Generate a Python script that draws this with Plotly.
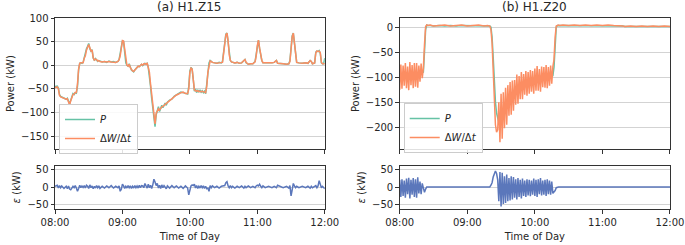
import plotly.graph_objects as go

# ---------------- data (minutes after 08:00) ----------------
tick_vals = [0, 60, 120, 180, 240]
tick_text = ["08:00", "09:00", "10:00", "11:00", "12:00"]

# Panel (a) H1.Z15
t_a = [0, 2, 3, 4, 5, 6, 8, 10, 11, 12, 13, 14, 15, 16, 17, 18, 19, 20, 21, 22, 23, 24, 25, 26, 27, 28, 29, 30,
       31, 32, 33, 34, 35, 36, 37, 38, 39, 40, 42, 44, 46, 48, 50, 52, 54, 56, 57, 58, 59, 60, 61, 62, 63, 64, 65,
       66, 67, 68, 69, 70, 71, 72, 73, 74, 75, 76, 77, 78, 79, 80, 81, 82, 83, 84, 85, 86, 87, 88, 89, 90, 91, 92,
       93, 94, 95, 96, 97, 98, 99, 100, 102, 104, 106, 108, 110, 112, 114, 116, 118, 119, 120, 121, 122, 123, 124,
       125, 126, 127, 128, 129, 130, 131, 132, 133, 134, 135, 136, 137, 138, 139, 140, 142, 144, 146, 148, 149, 150,
       151, 152, 153, 154, 155, 156, 157, 158, 160, 162, 164, 166, 168, 169, 170, 172, 174, 176, 178, 179, 180, 181,
       182, 183, 184, 185, 187, 190, 193, 195, 197, 198, 200, 203, 206, 208, 209, 210, 211, 212, 213, 214, 215, 217,
       220, 223, 225, 227, 228, 229, 231, 232, 233, 234, 235, 236, 237, 238, 239, 240]
P_a = [-45, -44, -48, -62, -66, -67, -70, -72, -70, -76, -82, -74, -68, -60, -62, -58, -59, -45, -10, 4, 5, 4, 6, 18,
       22, 35, 40, 46, 35, 30, 33, 15, 10, 14, 11, 8, 10, 9, 7, 8, 6, 9, 7, 8, 6, 8, 12, 25, 45, 52, 50, 30, 5, 0,
       -2, 3, -6, -10, -12, -14, -10, -7, -5, -2, -3, 0, 2, -1, 3, 4, 2, 4, -5, -20, -45, -70, -95, -120, -130, -105,
       -95, -88, -98, -92, -85, -90, -84, -80, -85, -78, -74, -72, -66, -63, -60, -57, -58, -60, -61, -45, -12, -5,
       -8, -30, -55, -50, -58, -52, -56, -53, -57, -54, -58, -55, -60, -40, -10, 5, 10, 8, 6, 5, 4, 6, 5, 8, 30, 55,
       66, 68, 50, 20, 10, 7, 6, 5, 6, 4, 5, 10, 12, 5, 2, 3, 3, 8, 22, 45, 53, 35, 20, 10, 5, 5, 4, 5, 6, 10, 4, 3,
       3, 2, 3, 10, 40, 62, 68, 45, 15, 6, 5, 4, 5, 4, 10, 8, 3, 5, 28, 30, 29, 31, 25, 5, 3, 3, 15]
dW_a = [-47, -46, -50, -64, -67, -68, -71, -72, -71, -77, -84, -75, -69, -62, -61, -58, -58, -40, -8, 4, 5, 5, 5, 15,
        20, 32, 38, 44, 37, 30, 32, 16, 11, 13, 12, 9, 10, 8, 7, 8, 7, 8, 7, 7, 6, 8, 11, 20, 40, 52, 51, 33, 6, 0,
        -2, 2, -5, -9, -12, -13, -10, -7, -6, -2, -3, -1, 2, 0, 3, 3, 2, 5, -3, -15, -40, -65, -90, -115, -124, -102,
        -96, -92, -95, -90, -88, -87, -85, -82, -80, -78, -75, -70, -67, -63, -61, -58, -57, -60, -60, -50, -15, -6,
        -8, -28, -52, -54, -55, -54, -56, -55, -56, -55, -57, -57, -58, -45, -15, 2, 9, 8, 6, 5, 4, 5, 5, 6, 25, 52,
        64, 68, 52, 22, 10, 7, 6, 5, 6, 4, 5, 9, 12, 6, 2, 3, 3, 7, 20, 42, 53, 37, 21, 10, 5, 5, 4, 5, 6, 10, 4, 3,
        3, 2, 3, 8, 35, 60, 68, 47, 17, 6, 5, 4, 5, 4, 10, 8, 3, 5, 26, 30, 29, 30, 27, 6, 3, 3, 3]
eps_a = [2, 5, -3, 4, -2, 3, -4, 2, -5, 3, -6, -8, -3, 2, -2, 4, -3, -12, -4, 5, -2, 3, -1, 4, -3, 5, 2, -4, 6, -2,
         3, -5, 2, -3, 4, -2, 3, -4, 2, -3, 3, -2, 4, -3, 2, -2, 3, -12, -6, 8, 3, -4, 2, -3, 4, -2, 3, -4, 2, -3, 4,
         -2, 3, -3, 5, -2, 4, 3, -2, 10, 3, -3, 8, -2, 5, -4, 6, 22, 14, 4, 10, -3, 5, -4, 6, -2, 4, -3, -5, 3, -3, 4,
         -2, 3, -3, 2, -4, 3, -3, -22, -8, 3, 6, 4, 8, -3, 4, -4, 2, -3, 4, -2, 3, -4, 2, -5, -3, -12, 4, -2, 3, -2, 2,
         -3, 2, 3, 5, 4, 12, 15, 3, -2, 4, -2, 2, -3, 2, -2, 3, -3, 2, -2, 3, -2, 2, -2, 3, 5, 3, 8, 2, -2, 3, -2, 2,
         -2, 2, -2, 5, 2, -2, 2, -3, 4, -25, -8, 10, 3, -2, 2, -2, 2, -2, 2, -3, 2, -2, 2, 4, -2, 3, 18, 3, -2, 2, -3, -5]

# Panel (b) H1.Z20
t_b = [0, 1, 2, 3, 4, 5, 6, 7, 8, 9, 10, 11, 12, 13, 14, 15, 16, 17, 18, 19, 20, 21, 22, 23, 24, 25,
       27, 30, 35, 40, 45, 50, 55, 60, 65, 70, 75, 78, 80,
       81, 82, 83, 84, 85, 86, 87, 88, 89, 90, 91, 92, 93, 94, 95, 96, 97, 98, 99, 100, 101, 102, 103, 104, 105,
       106, 107, 108, 109, 110, 111, 112, 113, 114, 115, 116, 117, 118, 119, 120, 121, 122, 123, 124, 125, 126,
       127, 128, 129, 130, 131, 132, 133, 134, 135, 136, 137, 138, 139, 140, 141, 142,
       145, 150, 155, 160, 165, 170, 175, 180, 185, 190, 195, 198, 200, 205, 210, 215, 220, 225, 230, 235, 240]
P_b = [-105, -103, -101, -102, -99, -100, -98, -99, -100, -97, -96, -98, -97, -95, -97, -96, -94, -95, -94, -93,
       -92, -90, -50, -5, 4, 3,
       3, 2, 3, 2, 3, 2, 3, 3, 2, 3, 3, 2, 2,
       0, -20, -60, -110, -150, -172, -185, -190, -192, -188, -183, -178, -172, -166, -160, -156, -152, -148, -145,
       -142, -139, -136, -133, -130, -128, -126, -124, -122, -120, -119, -117, -116, -115, -114, -113, -112, -111,
       -110, -109, -108, -107, -106, -105, -104, -104, -103, -102, -102, -101, -101, -100, -100, -99, -99, -98, -97,
       -80, -30, 0, 3, 3, 3,
       3, 3, 3, 3, 3, 3, 3, 3, 3, 3, 3, 2, 1, 1, 1, 1, 1, 1, 1, 1, 1]
dW_b = [-125, -75, -123, -77, -117, -72, -122, -79, -126, -70, -116, -76, -122, -72, -119, -72, -121, -77, -109,
        -73, -102, -82, -35, 1, 4, 3,
        4, 2, 3, 4, 2, 3, 4, 2, 3, 4, 2, 3, 2,
        -5, -32, -88, -150, -195, -210, -205, -150, -230, -133, -223, -130, -202, -121, -195, -116, -177, -110,
        -175, -107, -167, -106, -155, -95, -153, -98, -144, -90, -144, -94, -135, -88, -137, -90, -133, -86, -129,
        -88, -133, -83, -127, -78, -127, -84, -129, -79, -120, -80, -121, -76, -122, -80, -117, -77, -113, -79,
        -65, -20, 2, 3, 4, 3,
        4, 3, 4, 3, 4, 3, 4, 3, 4, 3, 3, 2, 1, 2, 1, 2, 1, 2, 1, 2, 1]
eps_b = [20, -28, 22, -25, 18, -30, 24, -20, 26, -32, 20, -22, 25, -28, 22, -30, 27, -18, 15, -20, 10, -8, -15, -6,
         0, 0,
         0, 0, 0, 0, 0, 0, 0, 0, 0, 0, 0, 0, 0,
         5, 12, 28, 40, 45, 38, 20, -40, 42, -55, 40, -48, 30, -45, 35, -40, 25, -38, 30, -35, 28, -30, 22, -35, 25,
         -28, 20, -32, 24, -25, 18, -28, 22, -24, 20, -26, 18, -22, 24, -25, 20, -28, 22, -20, 25, -24, 18, -22, 20,
         -25, 22, -20, 18, -22, 15, -18, -15, -10, -2, 0, 0, 0,
         0, 0, 0, 0, 0, 0, 0, 0, 0, 0, 0, 0, 0, 0, 0, 0, 0, 0, 0, 0, 0]

# ---------------- styling ----------------
C_P = "#66c2a5"
C_DW = "#fc8d62"
C_EPS = "#5b77bb"
FONT = "DejaVu Sans"
TXT = "#262626"

fig = go.Figure()

def add(x, y, color, name, xa, ya, legend, show):
    fig.add_trace(go.Scatter(x=x, y=y, mode="lines", name=name, line=dict(color=color, width=1.5),
                             xaxis=xa, yaxis=ya, legend=legend, showlegend=show))

add(t_a, P_a, C_P, "<i>P</i>", "x", "y", "legend", True)
add(t_a, dW_a, C_DW, "Δ<i>W</i>/Δ<i>t</i>", "x", "y", "legend", True)
add(t_a, eps_a, C_EPS, "eps", "x2", "y2", "legend", False)
add(t_b, P_b, C_P, "<i>P</i>", "x3", "y3", "legend2", True)
add(t_b, dW_b, C_DW, "Δ<i>W</i>/Δ<i>t</i>", "x3", "y3", "legend2", True)
add(t_b, eps_b, C_EPS, "eps", "x4", "y4", "legend2", False)

W, H = 685, 245
ML, MR, MT, MB = 55, 14.5, 18, 36
PW, PH = W - ML - MR, H - MT - MB

def fx(px):
    return (px - ML) / PW

def fy(py):
    return (H - MB - py) / PH

xdomA = [fx(55), fx(325)]
xdomB = [fx(400), fx(670.5)]
ydomTop = [fy(149.3), fy(18)]
ydomBot = [fy(209), fy(165.7)]

axis_common = dict(showline=True, linecolor="#333333", linewidth=1, mirror=True, ticks="outside", ticklen=3.5,
                   tickcolor="#333333", tickfont=dict(family=FONT, size=10, color=TXT), zeroline=False,
                   automargin=False)

def xax(dom, anchor, labels):
    d = dict(axis_common)
    d.update(domain=dom, anchor=anchor, range=[0, 240], tickvals=tick_vals, ticktext=tick_text,
             showgrid=False, showticklabels=labels)
    if labels:
        d["title"] = dict(text="Time of Day", font=dict(family=FONT, size=10, color=TXT), standoff=6)
    return d

def yax(dom, anchor, rng, tv, title):
    d = dict(axis_common)
    d.update(domain=dom, anchor=anchor, range=rng, tickvals=tv, showgrid=True, gridcolor="#d3d3d3",
             gridwidth=1, title=dict(text=title, font=dict(family=FONT, size=10, color=TXT), standoff=4))
    return d

legend_style = dict(bgcolor="rgba(255,255,255,0.85)", bordercolor="#cccccc", borderwidth=1,
                    font=dict(family=FONT, size=10, color=TXT), xanchor="left", yanchor="top",
                    tracegroupgap=0, itemwidth=30)

fig.update_layout(
    width=W, height=H, margin=dict(l=ML, r=MR, t=MT, b=MB),
    paper_bgcolor="white", plot_bgcolor="white", font=dict(family=FONT, size=10, color=TXT),
    xaxis=xax(xdomA, "y", False),
    yaxis=yax(ydomTop, "x", [-178, 100], [-150, -100, -50, 0, 50, 100], "Power (kW)"),
    xaxis2=xax(xdomA, "y2", True),
    yaxis2=yax(ydomBot, "x2", [-62, 60], [-50, 0, 50], "<i>ε</i> (kW)"),
    xaxis3=xax(xdomB, "y3", False),
    yaxis3=yax(ydomTop, "x3", [-244, 18], [-200, -150, -100, -50, 0], "Power (kW)"),
    xaxis4=xax(xdomB, "y4", True),
    yaxis4=yax(ydomBot, "x4", [-62, 60], [-50, 0, 50], "<i>ε</i> (kW)"),
    legend=dict(legend_style, x=fx(59), y=fy(104)),
    legend2=dict(legend_style, x=fx(404), y=fy(103)),
    annotations=[
        dict(text="(a) H1.Z15", x=(xdomA[0] + xdomA[1]) / 2, y=fy(7), xref="paper", yref="paper",
             showarrow=False, font=dict(family=FONT, size=12, color=TXT), xanchor="center", yanchor="middle"),
        dict(text="(b) H1.Z20", x=(xdomB[0] + xdomB[1]) / 2, y=fy(7), xref="paper", yref="paper",
             showarrow=False, font=dict(family=FONT, size=12, color=TXT), xanchor="center", yanchor="middle"),
    ],
)

fig.write_html("out.html", config={"displayModeBar": False},
               post_script="document.body.style.margin='0';document.body.style.overflow='hidden';")
